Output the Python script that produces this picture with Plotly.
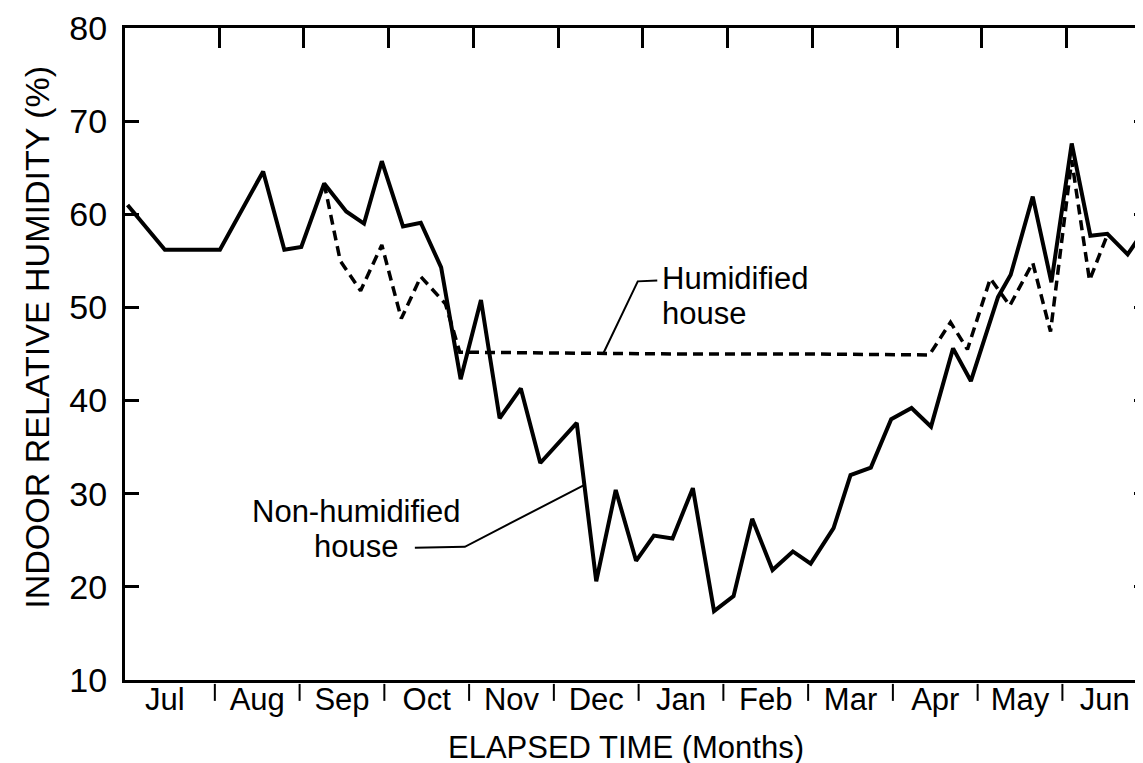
import plotly.graph_objects as go

# x in elapsed months (1 = start of Aug), y in % RH
months = ["Jul", "Aug", "Sep", "Oct", "Nov", "Dec", "Jan", "Feb", "Mar", "Apr", "May", "Jun"]
month_label_pos = [0.36, 1.45, 2.45, 3.45, 4.45, 5.45, 6.45, 7.45, 8.45, 9.45, 10.45, 11.45]
month_bounds = [1, 2, 3, 4, 5, 6, 7, 8, 9, 10, 11]
rh_ticks = [10, 20, 30, 40, 50, 60, 70, 80]

non_hum_x = [-0.08, 0.36, 1.01, 1.52, 1.77, 1.97, 2.24, 2.50, 2.71, 2.92, 3.17, 3.38,
             3.62, 3.85, 4.09, 4.31, 4.56, 4.79, 5.22, 5.45, 5.68, 5.92, 6.13, 6.35,
             6.59, 6.84, 7.07, 7.29, 7.53, 7.77, 7.98, 8.25, 8.45, 8.69, 8.93, 9.17,
             9.40, 9.66, 9.87, 10.19, 10.34, 10.60, 10.82, 11.06, 11.28, 11.48, 11.72, 11.96]
non_hum_y = [61.0, 56.2, 56.2, 64.6, 56.2, 56.5, 63.3, 60.3, 59.0, 65.7, 58.7, 59.1,
             54.3, 42.3, 50.8, 38.1, 41.3, 33.3, 37.6, 20.6, 30.4, 22.8, 25.5, 25.2,
             30.6, 17.4, 19.0, 27.3, 21.8, 23.8, 22.5, 26.3, 32.0, 32.8, 38.0, 39.2,
             37.2, 45.6, 42.1, 51.1, 53.5, 61.9, 52.7, 67.6, 57.7, 57.9, 55.7, 58.9]

hum_x = [2.24, 2.43, 2.67, 2.92, 3.15, 3.38, 3.67, 3.84, 5.0, 6.5, 8.0, 9.38,
         9.63, 9.83, 10.10, 10.33, 10.60, 10.81, 11.06, 11.27, 11.48]
hum_y = [63.3, 55.0, 51.8, 56.7, 48.8, 53.3, 50.4, 45.2, 45.1, 45.0, 45.0, 44.9,
         48.4, 45.5, 53.1, 50.2, 54.8, 47.4, 65.8, 52.9, 57.8]

FONT = "Liberation Sans, Arial, sans-serif"
black = "black"

fig = go.Figure()
fig.add_trace(go.Scatter(x=non_hum_x, y=non_hum_y, mode="lines",
                         line=dict(color=black, width=4), showlegend=False))
fig.add_trace(go.Scatter(x=hum_x, y=hum_y, mode="lines",
                         line=dict(color=black, width=3.5, dash="10px,6px"), showlegend=False))
fig.add_trace(go.Scatter(x=[], y=[], xaxis="x2", showlegend=False))

# leader lines for the labels
fig.add_shape(type="path", path="M 5.53 45.0 L 5.94 52.8 L 6.17 52.9",
              line=dict(color=black, width=2), xref="x", yref="y")
fig.add_shape(type="path", path="M 5.30 30.9 L 3.90 24.3 L 3.31 24.2",
              line=dict(color=black, width=2), xref="x", yref="y")

lbl_font = dict(family=FONT, size=31, color=black)
fig.add_annotation(x=6.20, y=53.1, text="Humidified", showarrow=False, xanchor="left", font=lbl_font)
fig.add_annotation(x=6.20, y=49.4, text="house", showarrow=False, xanchor="left", font=lbl_font)
fig.add_annotation(x=2.62, y=28.1, text="Non-humidified", showarrow=False, xanchor="center", font=lbl_font)
fig.add_annotation(x=2.62, y=24.3, text="house", showarrow=False, xanchor="center", font=lbl_font)

# axis titles
fig.add_annotation(x=0.49, y=-0.104, xref="paper", yref="paper", text="ELAPSED TIME (Months)",
                   showarrow=False, xanchor="center", yanchor="middle",
                   font=dict(family=FONT, size=31, color=black))
fig.add_annotation(x=-0.086, y=0.525, xref="paper", yref="paper", text="INDOOR RELATIVE HUMIDITY (%)",
                   showarrow=False, textangle=-90, xanchor="center", yanchor="middle",
                   font=dict(family=FONT, size=34, color=black))

# separator marks between month labels
for b in month_bounds:
    fig.add_shape(type="line", x0=b - 0.05, x1=b - 0.05, y0=-0.006, y1=-0.032,
                  xref="x", yref="paper", line=dict(color=black, width=2))

fig.update_layout(
    width=1143, height=763,
    margin=dict(l=117, r=3, t=20, b=91),
    paper_bgcolor="white", plot_bgcolor="white",
    xaxis=dict(range=[-0.11, 11.96], tickmode="array", tickvals=month_label_pos, ticktext=months,
               ticks="", ticklen=0, ticklabelstandoff=-10,
               showline=True, linewidth=3, linecolor=black, mirror=True,
               showgrid=False, zeroline=False, automargin=False,
               tickfont=dict(family=FONT, size=31, color=black)),
    xaxis2=dict(range=[-0.11, 11.96], overlaying="x", side="top", tickmode="array",
                tickvals=month_bounds, ticks="inside", ticklen=20, tickwidth=3, tickcolor=black,
                showticklabels=False, showline=False, showgrid=False, zeroline=False,
                automargin=False),
    yaxis=dict(range=[10, 80], tickmode="array", tickvals=rh_ticks,
               ticks="inside", ticklen=14, tickwidth=3, tickcolor=black,
               showline=True, linewidth=3, linecolor=black, mirror="ticks",
               showgrid=False, zeroline=False, ticklabelstandoff=8, automargin=False,
               tickfont=dict(family=FONT, size=34, color=black)),
)

fig.write_html("out.html")
